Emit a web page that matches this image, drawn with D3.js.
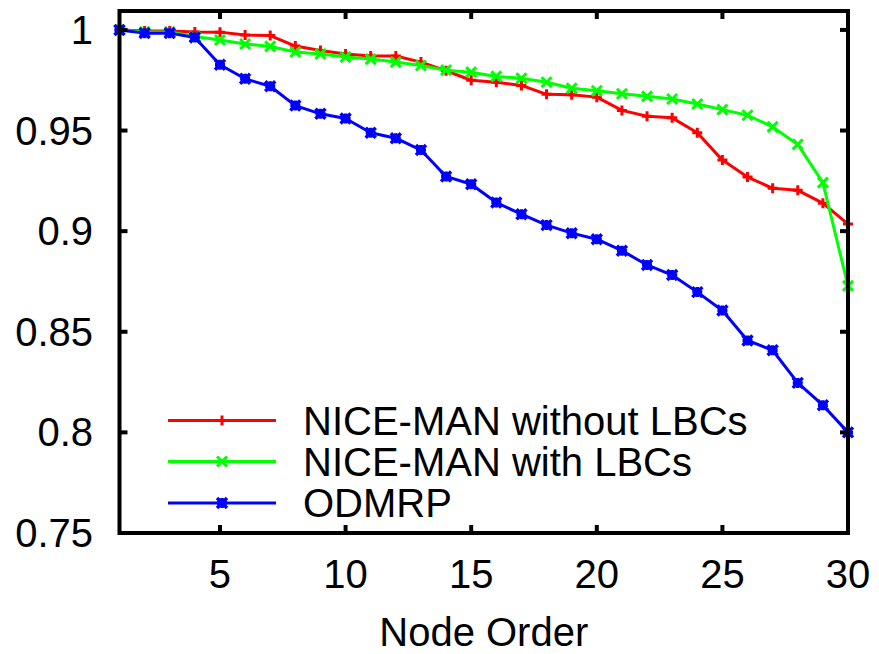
<!DOCTYPE html>
<html lang="en">
    <head>
        <meta charset="utf-8">
        <title>Node Order</title>
        <script src="https://d3js.org/d3.v7.min.js"></script>
        <style type="text/css">
          body { margin: 0; background: #fff; }
          svg { width: 879px; height: 654px; display: block; }
          text {
            font-family: "Liberation Sans", Arial, Helvetica, sans-serif;
            font-size: 40px;
            fill: #000;
          }
        </style>
    </head>
    <body>
        <svg></svg>

        <script type="text/javascript">

        // node order 1..30
        const nodes = d3.range(1, 31);

        // NICE-MAN without LBCs (red, +)
        const withoutLBC = [1.0, 0.9995, 0.9995, 0.999, 0.9989, 0.9975, 0.9972, 0.992, 0.9898, 0.9880,
                            0.987, 0.987, 0.984, 0.9797, 0.975, 0.974, 0.9724, 0.968, 0.9678, 0.9666,
                            0.960, 0.9571, 0.9563, 0.9489, 0.9353, 0.9269, 0.9213, 0.9203, 0.9139, 0.9035];

        // NICE-MAN with LBCs (green, x)
        const withLBC = [1.0, 0.999, 0.999, 0.9967, 0.995, 0.993, 0.9918, 0.989, 0.988, 0.9865,
                         0.9855, 0.984, 0.9823, 0.980, 0.979, 0.9769, 0.976, 0.974, 0.971, 0.9698,
                         0.9683, 0.967, 0.9657, 0.9632, 0.9604, 0.9576, 0.9518, 0.9431, 0.9241, 0.8728];

        // ODMRP (blue, *)
        const odmrp = [1.0, 0.9984, 0.9984, 0.9962, 0.9827, 0.9757, 0.972, 0.9624, 0.9583, 0.956,
                       0.9489, 0.9462, 0.9403, 0.9272, 0.9233, 0.9142, 0.9084, 0.903, 0.899, 0.896,
                       0.8903, 0.8832, 0.8782, 0.8697, 0.8606, 0.8457, 0.8408, 0.8246, 0.8135, 0.800];

        const seriesNames = ["NICE-MAN without LBCs", "NICE-MAN with LBCs", "ODMRP"];
        const seriesColors = ["#ff0000", "#00ff00", "#0000ff"];
        const seriesMarks = ["plus", "cross", "star"];
        const seriesValues = [withoutLBC, withLBC, odmrp];

        const xTicks = [5, 10, 15, 20, 25, 30];
        const yTicks = [0.75, 0.8, 0.85, 0.9, 0.95, 1];

        const plotL = 119.5, plotR = 848, plotT = 11, plotB = 533;

        const x = d3.scaleLinear().domain([1, 30]).range([plotL, plotR]);
        const y = d3.scaleLinear().domain([0.75, 1.0094]).range([plotB, plotT]);

        const svg = d3.select("svg");

        // draw a gnuplot-like point symbol
        function mark(g, type, color) {
            const s = 5;
            let d = "";
            if (type === "plus" || type === "star") d += `M${-s},0H${s}M0,${-s}V${s}`;
            if (type === "cross" || type === "star") d += `M${-s},${-s}L${s},${s}M${-s},${s}L${s},${-s}`;
            g.append("path")
                .attr("d", d)
                .attr("stroke", color)
                .attr("stroke-width", type === "star" ? 3.5 : 3)
                .attr("fill", "none");
        }

        const line = d3.line()
            .x((d, i) => x(nodes[i]))
            .y(d => y(d));

        // series lines and points
        seriesValues.forEach((vals, k) => {
            svg.append("path")
                .datum(vals)
                .attr("d", line)
                .attr("fill", "none")
                .attr("stroke", seriesColors[k])
                .attr("stroke-width", 3)
                .attr("stroke-linejoin", "round");

            const pts = svg.selectAll(null)
                .data(vals)
                .enter()
                .append("g")
                .attr("transform", (d, i) => `translate(${x(nodes[i])},${y(d)})`);
            pts.each(function() { mark(d3.select(this), seriesMarks[k], seriesColors[k]); });
        });

        // frame
        svg.append("rect")
            .attr("x", plotL).attr("y", plotT)
            .attr("width", plotR - plotL).attr("height", plotB - plotT)
            .attr("fill", "none")
            .attr("stroke", "#000")
            .attr("stroke-width", 4);

        // ticks, inside on all four sides
        const tickLen = 8;
        xTicks.forEach(t => {
            svg.append("line").attr("x1", x(t)).attr("x2", x(t))
                .attr("y1", plotB).attr("y2", plotB - tickLen)
                .attr("stroke", "#000").attr("stroke-width", 4);
            svg.append("line").attr("x1", x(t)).attr("x2", x(t))
                .attr("y1", plotT).attr("y2", plotT + tickLen)
                .attr("stroke", "#000").attr("stroke-width", 4);
            svg.append("text")
                .attr("x", x(t)).attr("y", 588)
                .attr("text-anchor", "middle")
                .text(t);
        });
        yTicks.forEach(t => {
            svg.append("line").attr("x1", plotL).attr("x2", plotL + tickLen)
                .attr("y1", y(t)).attr("y2", y(t))
                .attr("stroke", "#000").attr("stroke-width", 4);
            svg.append("line").attr("x1", plotR).attr("x2", plotR - tickLen)
                .attr("y1", y(t)).attr("y2", y(t))
                .attr("stroke", "#000").attr("stroke-width", 4);
            svg.append("text")
                .attr("x", 93).attr("y", y(t))
                .attr("dy", "0.35em")
                .attr("text-anchor", "end")
                .text(t);
        });

        // axis title
        svg.append("text")
            .attr("x", (plotL + plotR) / 2).attr("y", 646)
            .attr("text-anchor", "middle")
            .text("Node Order");

        // legend
        const legendY = [420.5, 461.5, 503];
        seriesNames.forEach((name, k) => {
            svg.append("line")
                .attr("x1", 168).attr("x2", 276)
                .attr("y1", legendY[k]).attr("y2", legendY[k])
                .attr("stroke", seriesColors[k])
                .attr("stroke-width", 3);
            mark(svg.append("g").attr("transform", `translate(222,${legendY[k]})`), seriesMarks[k], seriesColors[k]);
            svg.append("text")
                .attr("x", 303).attr("y", legendY[k])
                .attr("dy", "0.35em")
                .text(name);
        });

        </script>
    </body>
</html>
